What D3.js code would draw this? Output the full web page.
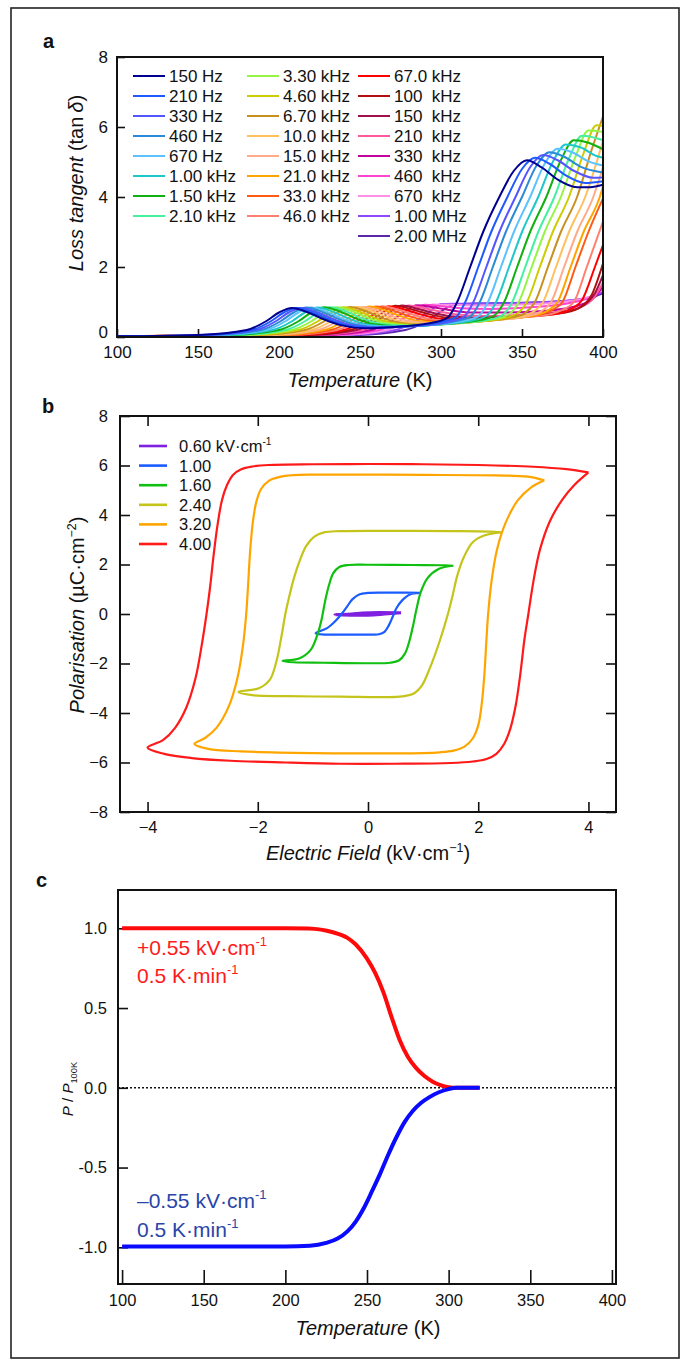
<!DOCTYPE html>
<html>
<head>
<meta charset="utf-8">
<title>Loss tangent, P-E loops, polarisation vs temperature</title>
<script src="https://cdn.jsdelivr.net/npm/d3@7"></script>
<style>
  body { margin: 0; background: #fff; }
  svg text { font-family: "Liberation Sans", Arial, Helvetica, sans-serif; }
</style>
</head>
<body>
<script>
// ---------- panel a: loss tangent vs temperature, one curve per frequency ----------
var freqLabels = ["150 Hz", "210 Hz", "330 Hz", "460 Hz", "670 Hz", "1.00 kHz", "1.50 kHz", "2.10 kHz",
  "3.30 kHz", "4.60 kHz", "6.70 kHz", "10.0 kHz", "15.0 kHz", "21.0 kHz", "33.0 kHz", "46.0 kHz",
  "67.0 kHz", "100  kHz", "150  kHz", "210  kHz", "330  kHz", "460  kHz", "670  kHz", "1.00 MHz", "2.00 MHz"];
var freqColors = ["#000090", "#1e5aff", "#5555ff", "#2a8ad8", "#5bc2ff", "#1ec8c8", "#10b010", "#45f0a0",
  "#95f545", "#cccc00", "#c89020", "#ffc060", "#ffaa88", "#ffa500", "#ff5a14", "#ff8070",
  "#ff0000", "#b01010", "#a0104a", "#ff5a9a", "#c0049c", "#ff44d0", "#ff90e8", "#9048ff", "#5a28a8"];
var lossCurves = [
  [[100,.02],[150,.06],[180,.2],[192,.45],[200,.7],[208,.83],[218,.7],[228,.5],[238,.34],[253,.25],[275,.3],[296,.42],[304,.55],[310,1.0],[318,2.0],[326,3.0],[336,4.0],[345,4.75],[353,5.05],[362,4.85],[372,4.5],[384,4.28],[392,4.28],[400,4.35]],
  [[100,.02],[153,.06],[183,.2],[195,.45],[203,.7],[211,.83],[221,.7],[231,.5],[241,.34],[256,.26],[280,.31],[301,.44],[309,.56],[315,1.0],[323,2.0],[331,3.0],[341,4.0],[350,4.8],[358,5.12],[367,4.95],[377,4.62],[389,4.4],[400,4.45]],
  [[100,.02],[156,.06],[186,.2],[198,.45],[206,.7],[214,.83],[224,.7],[234,.5],[244,.34],[259,.27],[285,.32],[306,.45],[314,.57],[320,1.0],[328,2.0],[336,3.0],[346,4.0],[355,4.85],[363,5.2],[372,5.05],[382,4.75],[394,4.55],[400,4.56]],
  [[100,.02],[159,.06],[189,.2],[201,.45],[209,.7],[217,.84],[227,.71],[237,.51],[247,.35],[262,.28],[290,.33],[310,.46],[318,.58],[324,1.0],[332,2.0],[340,3.0],[350,4.0],[359,4.9],[367,5.28],[376,5.15],[386,4.87],[400,4.7]],
  [[100,.02],[162,.06],[192,.2],[204,.45],[212,.7],[220,.84],[230,.71],[240,.51],[250,.35],[265,.29],[294,.34],[315,.47],[323,.59],[329,1.0],[337,2.0],[345,3.0],[355,4.0],[364,4.95],[372,5.38],[381,5.28],[391,5.02],[400,4.9]],
  [[100,.02],[166,.06],[196,.2],[208,.45],[216,.7],[224,.84],[234,.71],[244,.51],[254,.36],[269,.3],[298,.36],[320,.48],[328,.6],[334,1.0],[342,2.0],[350,3.0],[360,4.0],[369,5.0],[377,5.5],[386,5.42],[396,5.17],[400,5.12]],
  [[100,.02],[170,.06],[200,.2],[212,.45],[220,.7],[228,.85],[238,.72],[248,.52],[258,.37],[273,.31],[302,.37],[325,.49],[333,.62],[339,1.0],[347,2.0],[355,3.0],[365,4.0],[374,5.05],[382,5.62],[391,5.55],[400,5.36]],
  [[100,.02],[174,.06],[204,.2],[216,.45],[224,.7],[232,.85],[242,.72],[252,.52],[262,.38],[277,.32],[306,.38],[330,.5],[338,.63],[344,1.0],[352,2.0],[360,3.0],[370,4.0],[379,5.1],[387,5.75],[396,5.68],[400,5.62]],
  [[100,.02],[178,.06],[208,.2],[220,.45],[228,.7],[236,.85],[246,.72],[256,.53],[266,.39],[281,.33],[310,.4],[334,.52],[342,.65],[348,1.0],[356,2.0],[364,3.0],[374,4.0],[383,5.15],[391,5.9],[400,5.86]],
  [[100,.02],[182,.06],[212,.2],[224,.45],[232,.7],[240,.85],[250,.72],[260,.53],[270,.4],[285,.34],[315,.41],[339,.54],[347,.67],[353,1.0],[361,2.0],[369,3.0],[379,4.0],[388,5.25],[396,6.05],[400,6.03]],
  [[100,.02],[186,.06],[216,.2],[228,.45],[236,.7],[244,.86],[254,.73],[264,.54],[274,.41],[289,.35],[320,.43],[344,.56],[352,.69],[358,1.0],[366,2.0],[374,3.0],[384,4.0],[393,5.35],[400,6.3]],
  [[100,.02],[190,.06],[220,.2],[232,.45],[240,.7],[248,.86],[258,.73],[268,.55],[278,.42],[293,.37],[325,.45],[349,.58],[357,.72],[363,1.0],[371,2.0],[379,3.0],[389,4.0],[400,5.6]],
  [[100,.02],[194,.06],[224,.2],[236,.45],[244,.7],[252,.86],[262,.74],[272,.56],[282,.44],[297,.39],[330,.47],[354,.6],[362,.74],[368,1.0],[376,2.0],[384,3.0],[394,4.0],[400,4.85]],
  [[100,.02],[198,.06],[228,.2],[240,.45],[248,.7],[256,.87],[266,.75],[276,.58],[286,.46],[301,.41],[335,.5],[358,.62],[366,.76],[372,1.0],[380,2.0],[388,3.0],[398,4.0],[400,4.3]],
  [[100,.02],[202,.06],[232,.2],[244,.45],[252,.7],[260,.87],[270,.76],[280,.6],[290,.48],[305,.43],[340,.52],[361,.64],[369,.78],[375,1.0],[383,2.0],[391,3.0],[400,3.96]],
  [[100,.02],[206,.06],[236,.2],[248,.45],[256,.7],[264,.88],[274,.77],[284,.62],[294,.5],[309,.45],[345,.55],[368,.66],[376,.8],[382,1.0],[390,2.0],[400,3.3]],
  [[100,.02],[210,.06],[240,.2],[252,.45],[260,.7],[268,.88],[278,.78],[288,.64],[298,.53],[313,.48],[350,.57],[373,.68],[381,.82],[387,1.05],[395,2.0],[400,2.63]],
  [[100,.02],[214,.06],[244,.2],[256,.45],[264,.7],[272,.89],[282,.79],[292,.66],[302,.56],[317,.51],[355,.6],[377,.7],[386,.85],[393,1.2],[400,2.1]],
  [[100,.02],[218,.06],[248,.2],[260,.45],[268,.7],[276,.9],[286,.8],[296,.68],[306,.59],[321,.55],[358,.63],[380,.75],[388,.9],[395,1.25],[400,1.77]],
  [[100,.02],[222,.06],[252,.2],[264,.45],[272,.7],[280,.9],[290,.82],[300,.72],[310,.64],[325,.6],[360,.67],[382,.8],[393,1.05],[400,1.55]],
  [[100,.02],[227,.06],[257,.2],[269,.45],[277,.7],[285,.91],[295,.85],[305,.77],[318,.7],[340,.7],[365,.75],[385,.9],[395,1.15],[400,1.45]],
  [[100,.02],[232,.06],[262,.2],[274,.45],[282,.7],[290,.92],[300,.88],[312,.82],[330,.8],[355,.85],[380,.98],[393,1.15],[400,1.4]],
  [[100,.02],[237,.06],[267,.2],[279,.45],[287,.7],[295,.93],[306,.92],[320,.9],[345,.92],[370,.98],[390,1.12],[400,1.35]],
  [[100,.02],[242,.06],[272,.2],[284,.45],[292,.7],[300,.94],[312,.95],[330,.96],[355,.98],[380,1.05],[393,1.15],[400,1.3]],
  [[100,.02],[248,.06],[278,.2],[291,.45],[299,.7],[308,.92],[325,.96],[350,.98],[375,1.02],[392,1.12],[400,1.25]]
];
var lossTicksX = [100, 150, 200, 250, 300, 350, 400];
var lossTicksY = [0, 2, 4, 6, 8];

// ---------- panel b: P-E hysteresis loops (upper branch then lower branch) ----------
var fieldLabels = ["0.60", "1.00", "1.60", "2.40", "3.20", "4.00"];
var fieldColors = ["#7f1fe0", "#1a5cff", "#10c010", "#c4c41a", "#ffa500", "#ff1a1a"];
var loops = [
  [[0.6,0.05],[0.2,0.06],[-0.1,0.04],[-0.3,0.0],[-0.6,-0.03],[-0.2,-0.05],[0.1,-0.04],[0.3,0.0],[0.6,0.05]],
  [[0.95,0.85],[0.7,0.86],[0.3,0.86],[0,0.85],[-0.15,0.8],[-0.28,0.6],[-0.38,0.3],[-0.48,0],[-0.6,-0.3],[-0.75,-0.58],[-0.95,-0.78],
   [-0.8,-0.83],[-0.4,-0.83],[0,-0.83],[0.2,-0.82],[0.3,-0.72],[0.38,-0.45],[0.45,-0.1],[0.52,0.25],[0.62,0.55],[0.75,0.78],[0.95,0.85]],
  [[1.55,1.95],[1.4,1.97],[0.8,1.98],[0,1.99],[-0.35,1.98],[-0.52,1.9],[-0.63,1.65],[-0.71,1.15],[-0.78,0.5],[-0.84,-0.2],[-0.92,-0.85],[-1.04,-1.45],[-1.25,-1.8],[-1.55,-1.9],
   [-1.35,-1.95],[-0.8,-1.97],[0,-1.99],[0.4,-1.97],[0.56,-1.88],[0.67,-1.6],[0.75,-1.1],[0.82,-0.45],[0.88,0.2],[0.96,0.9],[1.08,1.45],[1.28,1.82],[1.55,1.95]],
  [[2.42,3.3],[2.2,3.33],[1.5,3.35],[0.5,3.36],[-0.5,3.35],[-0.8,3.3],[-0.98,3.12],[-1.12,2.75],[-1.24,2.15],[-1.35,1.4],[-1.44,0.6],[-1.5,0],[-1.57,-0.9],[-1.66,-1.9],[-1.78,-2.65],[-1.98,-3.0],[-2.35,-3.15],
   [-2.1,-3.28],[-1.5,-3.32],[-0.5,-3.34],[0.3,-3.36],[0.62,-3.33],[0.84,-3.2],[0.98,-2.88],[1.12,-2.2],[1.3,-1.1],[1.45,0],[1.53,0.7],[1.62,1.55],[1.74,2.3],[1.9,2.9],[2.12,3.18],[2.42,3.3]],
  [[3.2,5.4],[2.9,5.55],[2.3,5.6],[1,5.62],[0,5.63],[-1,5.63],[-1.35,5.61],[-1.6,5.54],[-1.8,5.38],[-1.94,5.05],[-2.03,4.5],[-2.09,3.7],[-2.14,2.5],[-2.18,1.0],[-2.21,0],[-2.27,-1.3],[-2.37,-2.6],[-2.52,-3.7],[-2.75,-4.6],[-2.95,-5.0],[-3.15,-5.25],
   [-2.9,-5.45],[-2.3,-5.55],[-1,-5.62],[0,-5.63],[1,-5.62],[1.3,-5.59],[1.55,-5.52],[1.75,-5.36],[1.9,-5.03],[2.0,-4.5],[2.06,-3.7],[2.11,-2.5],[2.15,-1.0],[2.18,0],[2.24,1.3],[2.34,2.6],[2.5,3.7],[2.72,4.6],[2.95,5.1],[3.2,5.4]],
  [[4.0,5.72],[3.6,5.85],[3.0,5.95],[2.0,6.02],[1.0,6.05],[0,6.06],[-1.0,6.05],[-1.8,6.02],[-2.1,5.96],[-2.3,5.85],[-2.45,5.62],[-2.56,5.2],[-2.65,4.6],[-2.73,3.6],[-2.8,2.4],[-2.87,1.0],[-2.93,0],[-3.02,-1.3],[-3.13,-2.6],[-3.3,-3.8],[-3.5,-4.6],[-3.72,-5.1],[-4.0,-5.4],
   [-3.7,-5.65],[-3.2,-5.82],[-2.5,-5.93],[-1.5,-6.0],[-0.5,-6.05],[0.5,-6.05],[1.5,-6.02],[1.9,-5.96],[2.15,-5.86],[2.33,-5.65],[2.47,-5.25],[2.58,-4.65],[2.68,-3.7],[2.76,-2.5],[2.84,-1.0],[2.91,0],[3.0,1.3],[3.12,2.6],[3.3,3.75],[3.52,4.6],[3.74,5.2],[4.0,5.72]]
];
var fieldTicks = [-4, -2, 0, 2, 4];
var polTicks = [-8, -6, -4, -2, 0, 2, 4, 6, 8];

// ---------- panel c: normalised polarisation on warming ----------
var pyroPos = [[100,1.0],[150,1.0],[200,1.0],[214,0.998],[229,0.975],[238,0.94],[243,0.9],[250,0.81],[255,0.72],[260,0.6],[265,0.445],[270,0.3],[275,0.195],[280,0.125],[285,0.075],[290,0.04],[295,0.017],[300,0.004],[305,0.0],[319,0.0]];
var pyroNeg = [[100,-0.995],[150,-0.995],[200,-0.995],[215,-0.99],[225,-0.972],[232,-0.945],[238,-0.9],[243,-0.84],[248,-0.755],[253,-0.65],[258,-0.54],[263,-0.42],[268,-0.31],[273,-0.215],[278,-0.145],[283,-0.095],[288,-0.06],[294,-0.028],[300,-0.008],[305,0.0],[319,0.0]];
var pyroTicksX = [100, 150, 200, 250, 300, 350, 400];
var pyroTicksY = [-1.0, -0.5, 0.0, 0.5, 1.0];

var W = 687, H = 1365;
var svg = d3.select("body").append("svg").attr("width", W).attr("height", H);

// text with italic / superscript / subscript parts
function label(g, x, y, parts, o) {
  var t = g.append("text").attr("x", x).attr("y", y)
    .attr("font-size", o.size).attr("text-anchor", o.anchor || "start")
    .attr("fill", o.fill || "#111").style("white-space", "pre");
  if (o.rotate) t.attr("transform", "rotate(-90," + x + "," + y + ")");
  if (o.bold) t.attr("font-weight", "bold");
  var shift = 0;
  parts.forEach(function (p) {
    if (typeof p === "string") p = { t: p };
    var s = t.append("tspan").text(p.t);
    var want = p.sup ? -0.42 * o.size : p.sub ? 0.28 * o.size : 0;
    if (want !== shift) { s.attr("dy", want - shift); shift = want; }
    if (p.sup || p.sub) s.attr("font-size", o.size * 0.62);
    if (p.i) s.attr("font-style", "italic");
  });
  return t;
}

function styleAxis(sel, size) {
  sel.select(".domain").remove();
  sel.selectAll(".tick line").attr("stroke", "#111").attr("stroke-width", 1.6);
  sel.selectAll("text").attr("font-size", size).attr("fill", "#111")
    .attr("font-family", '"Liberation Sans", Arial, sans-serif');
}

// outer frame
svg.append("rect").attr("x", 11).attr("y", 8).attr("width", 668).attr("height", 1350)
  .attr("fill", "none").attr("stroke", "#222").attr("stroke-width", 1.6);

// =============== panel a ===============
var gA = svg.append("g");
var xA = d3.scaleLinear().domain([100, 400]).range([117, 603]);
var yA = d3.scaleLinear().domain([0, 8]).range([337, 57]);

gA.append("g").attr("transform", "translate(0,337)")
  .call(d3.axisBottom(xA).tickValues(lossTicksX).tickSizeInner(-8).tickSizeOuter(0).tickPadding(9))
  .call(styleAxis, 17);
gA.append("g").attr("transform", "translate(117,0)")
  .call(d3.axisLeft(yA).tickValues(lossTicksY).tickSizeInner(-8).tickSizeOuter(0).tickPadding(9))
  .call(styleAxis, 17)
  .selectAll("text").filter(function (d) { return d === 0; }).attr("dy", "0.05em");

var lineA = d3.line().x(function (d) { return xA(d[0]); }).y(function (d) { return yA(d[1]); })
  .curve(d3.curveMonotoneX);
gA.selectAll("path.loss").data(lossCurves.slice().reverse()).enter().append("path")
  .attr("class", "loss")
  .attr("d", lineA)
  .attr("fill", "none")
  .attr("stroke-width", 2)
  .attr("stroke", function (d, i) { return freqColors[lossCurves.length - 1 - i]; });

gA.append("rect").attr("x", 117).attr("y", 57).attr("width", 486).attr("height", 280)
  .attr("fill", "none").attr("stroke", "#111").attr("stroke-width", 2);

// legend a, three columns
var legA = gA.append("g");
var colStart = [0, 8, 16], colX = [133, 247, 358];
freqLabels.forEach(function (name, i) {
  var c = i < 8 ? 0 : i < 16 ? 1 : 2;
  var yy = 76 + (i - colStart[c]) * 20;
  legA.append("line").attr("x1", colX[c]).attr("x2", colX[c] + 32).attr("y1", yy).attr("y2", yy)
    .attr("stroke", freqColors[i]).attr("stroke-width", 2);
  label(legA, colX[c] + 36, yy + 6, [name], { size: 17 });
});

label(gA, 43, 48, ["a"], { size: 20, bold: true });
label(gA, 83, 183, [{ t: "Loss tangent", i: true }, " (tan\u2009", { t: "\u03b4", i: true }, ")"],
  { size: 20, anchor: "middle", rotate: true });
label(gA, 360, 387, [{ t: "Temperature", i: true }, " (K)"], { size: 20, anchor: "middle" });

// =============== panel b ===============
var gB = svg.append("g");
var xB = d3.scaleLinear().domain([-4.5, 4.5]).range([120, 616]);
var yB = d3.scaleLinear().domain([-8, 8]).range([812, 416]);
var minus = function (d) { return d < 0 ? "\u2212" + Math.abs(d) : "" + d; };

gB.append("g").attr("transform", "translate(0,812)")
  .call(d3.axisBottom(xB).tickValues(fieldTicks).tickFormat(minus).tickSizeInner(-10).tickSizeOuter(0).tickPadding(9))
  .call(styleAxis, 16.5);
gB.append("g").attr("transform", "translate(0,416)")
  .call(d3.axisTop(xB).tickValues(fieldTicks).tickFormat("").tickSizeInner(-10).tickSizeOuter(0))
  .call(styleAxis, 16.5);
gB.append("g").attr("transform", "translate(120,0)")
  .call(d3.axisLeft(yB).tickValues(polTicks).tickFormat(minus).tickSizeInner(-10).tickSizeOuter(0).tickPadding(12))
  .call(styleAxis, 16.5);
gB.append("g").attr("transform", "translate(616,0)")
  .call(d3.axisRight(yB).tickValues(polTicks).tickFormat("").tickSizeInner(-10).tickSizeOuter(0))
  .call(styleAxis, 16.5);

var lineB = d3.line().x(function (d) { return xB(d[0]); }).y(function (d) { return yB(d[1]); })
  .curve(d3.curveCatmullRom.alpha(0.5));
gB.selectAll("path.loop").data(loops).enter().append("path")
  .attr("class", "loop")
  .attr("d", lineB)
  .attr("fill", "none")
  .attr("stroke-linejoin", "round")
  .attr("stroke-width", function (d, i) { return i === 0 ? 3 : 2.2; })
  .attr("stroke", function (d, i) { return fieldColors[i]; });

gB.append("rect").attr("x", 120).attr("y", 416).attr("width", 496).attr("height", 396)
  .attr("fill", "none").attr("stroke", "#111").attr("stroke-width", 2);

var legB = gB.append("g");
fieldLabels.forEach(function (name, i) {
  var yy = 446 + i * 19.6;
  legB.append("line").attr("x1", 139).attr("x2", 167).attr("y1", yy).attr("y2", yy)
    .attr("stroke", fieldColors[i]).attr("stroke-width", 2.6);
  var parts = i === 0 ? [name + " kV\u00b7cm", { t: "-1", sup: true }] : [name];
  label(legB, 179, yy + 6, parts, { size: 16.5 });
});

label(gB, 42, 413, ["b"], { size: 20, bold: true });
label(gB, 84, 615, [{ t: "Polarisation", i: true }, " (\u00b5C\u00b7cm", { t: "\u22122", sup: true }, ")"],
  { size: 20, anchor: "middle", rotate: true });
label(gB, 368, 860, [{ t: "Electric Field", i: true }, " (kV\u00b7cm", { t: "\u22121", sup: true }, ")"],
  { size: 20, anchor: "middle" });

// =============== panel c ===============
var gC = svg.append("g");
var xC = d3.scaleLinear().domain([97.5, 402.5]).range([118, 616]);
var yC = d3.scaleLinear().domain([-1.23, 1.24]).range([1284, 890]);

gC.append("g").attr("transform", "translate(0,1284)")
  .call(d3.axisBottom(xC).tickValues(pyroTicksX).tickSizeInner(-14).tickSizeOuter(0).tickPadding(10))
  .call(styleAxis, 16.5);
gC.append("g").attr("transform", "translate(118,0)")
  .call(d3.axisLeft(yC).tickValues(pyroTicksY).tickFormat(function (d) { return d.toFixed(1); })
    .tickSizeInner(-10).tickSizeOuter(0).tickPadding(11))
  .call(styleAxis, 16.5);

gC.append("line").attr("x1", 118).attr("x2", 616).attr("y1", yC(0)).attr("y2", yC(0))
  .attr("stroke", "#111").attr("stroke-width", 1.6).attr("stroke-dasharray", "2,2");

var lineC = d3.line().x(function (d) { return xC(d[0]); }).y(function (d) { return yC(d[1]); })
  .curve(d3.curveMonotoneX);
gC.append("path").datum(pyroPos).attr("d", lineC).attr("fill", "none")
  .attr("stroke", "#ff0a0a").attr("stroke-width", 4);
gC.append("path").datum(pyroNeg).attr("d", lineC).attr("fill", "none")
  .attr("stroke", "#0a0aff").attr("stroke-width", 4);

gC.append("rect").attr("x", 118).attr("y", 890).attr("width", 498).attr("height", 394)
  .attr("fill", "none").attr("stroke", "#111").attr("stroke-width", 2);

label(gC, 137, 955, ["+0.55 kV\u00b7cm", { t: "-1", sup: true }], { size: 21, fill: "#ff1a1a" });
label(gC, 137, 983, ["0.5 K\u00b7min", { t: "-1", sup: true }], { size: 21, fill: "#ff1a1a" });
label(gC, 137, 1208, ["\u20130.55 kV\u00b7cm", { t: "-1", sup: true }], { size: 21, fill: "#2a44a8" });
label(gC, 137, 1237, ["0.5 K\u00b7min", { t: "-1", sup: true }], { size: 21, fill: "#2a44a8" });

label(gC, 36, 887, ["c"], { size: 20, bold: true });
label(gC, 73, 1089, [{ t: "P", i: true }, " / ", { t: "P", i: true }, { t: "100K", sub: true }],
  { size: 15, anchor: "middle", rotate: true });
label(gC, 368, 1335, [{ t: "Temperature", i: true }, " (K)"], { size: 20, anchor: "middle" });
</script>
</body>
</html>
